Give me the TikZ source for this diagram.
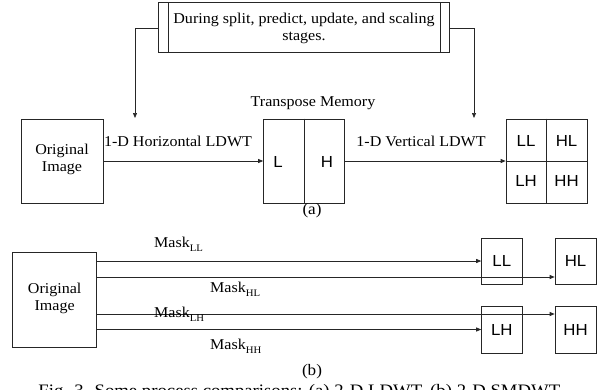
\documentclass[tikz,border=0pt]{standalone}
\usepackage{fontspec}
\setmainfont{Liberation Serif}[FakeStretch=1.07]
\newfontfamily\arialfont{Liberation Sans}[FakeStretch=1.05]
\usetikzlibrary{arrows.meta,calc}

\tikzset{
  line/.style={draw=black!85, line width=0.7pt},
  arr/.style={line, -{Triangle[length=5pt,width=4pt]}},
  blk/.style={line, rectangle, inner sep=0pt},
  serif/.style={font=\fontsize{15}{17}\selectfont, inner sep=0pt},
  sans/.style={font=\arialfont\fontsize{16}{18}\selectfont, inner sep=0pt},
  captext/.style={font=\fontsize{16}{18}\selectfont, inner sep=0pt},
  figcap/.style={font=\fontsize{17.5}{19}\selectfont, inner sep=0pt},
}
\newcommand{\masklabel}[1]{Mask\raisebox{-0.55ex}{\fontsize{10}{10}\selectfont #1}}

\begin{document}
\begin{tikzpicture}[x=1pt, y=-1pt]
  \useasboundingbox[fill=white] (0,0) rectangle (604,389);

  % ---------- (a) 2-D LDWT ----------
  \node[blk, minimum width=291pt, minimum height=49.5pt] (tb) at (304,27.5) {};
  \draw[line] ([xshift=10pt]tb.north west) -- ([xshift=10pt]tb.south west);
  \draw[line] ([xshift=-9.5pt]tb.north east) -- ([xshift=-9.5pt]tb.south east);
  \node[serif, align=center] (tbt) at (304,28.5)
    {During split, predict, update, and scaling\\stages.};

  \coordinate (dl) at (135,118);
  \coordinate (dr) at (474,118);
  \draw[arr] (tb.west |- 0,28.5) -| (dl);
  \draw[arr] (tb.east |- 0,28.5) -| (dr);

  \node[blk, minimum width=82pt, minimum height=84pt] (oa) at (62,161) {};
  \node[serif, align=center] at (62,159.5) {Original\\Image};

  \node[blk, minimum width=81pt, minimum height=84pt] (tm) at (304,161) {};
  \draw[line] (tm.north) -- (tm.south);
  \node[sans] (tl) at (278,162) {L};
  \node[sans] (th) at (327,162) {H};
  \node[serif] (tmt) at (313,103) {Transpose Memory};

  \node[blk, minimum width=81pt, minimum height=84pt] (g) at (546.5,161) {};
  \draw[line] (g.north) -- (g.south);
  \draw[line] (g.west) -- (g.east);
  \node[sans] (gll) at (526,140.5) {LL};
  \node[sans] (ghl) at (566.5,140.5) {HL};
  \node[sans] (glh) at (526,181) {LH};
  \node[sans] (ghh) at (566.5,181) {HH};

  \draw[arr] (oa.east) -- (tm.west);
  \draw[arr] (tm.east) -- (g.west);
  \node[serif] (h1) at (178,141) {1-D Horizontal LDWT};
  \node[serif] (v1) at (421,141) {1-D Vertical LDWT};

  \node[captext] (la) at (312,211) {(a)};

  % ---------- (b) 2-D SMDWT ----------
  \node[blk, minimum width=84pt, minimum height=95pt] (ob) at (54.7,299.5) {};
  \node[serif, align=center] at (54.7,298.5) {Original\\Image};

  \node[blk, minimum width=40.5pt, minimum height=46pt] (ll) at (501.8,261) {};
  \node[blk, minimum width=41pt, minimum height=46pt] (hl) at (575.5,261) {};
  \node[blk, minimum width=40.5pt, minimum height=47pt] (lh) at (501.8,329.5) {};
  \node[blk, minimum width=41pt, minimum height=47pt] (hh) at (575.5,329.5) {};
  \node[sans] at (ll) {LL};
  \node[sans] at (hl) {HL};
  \node[sans] at (lh) {LH};
  \node[sans] at (hh) {HH};

  \draw[arr] (ob.east |- ll.west) -- (ll.west);
  \draw[arr] (ob.east |- 0,277) -- (hl.west |- 0,277);
  \draw[arr] (ob.east |- 0,314) -- (hh.west |- 0,314);
  \draw[arr] (ob.east |- lh.west) -- (lh.west);

  \node[serif, anchor=west] (mll) at (154,244) {\masklabel{LL}};
  \node[serif, anchor=west] (mhl) at (210,289) {\masklabel{HL}};
  \node[serif, anchor=west] (mlh) at (154,314) {\masklabel{LH}};
  \node[serif, anchor=west] (mhh) at (210,346) {\masklabel{HH}};

  \node[captext] (lb) at (312,372) {(b)};

  \node[figcap, anchor=north] (fig) at (301,384.5)
    {Fig. 3. Some process comparisons: (a) 2-D LDWT. (b) 2-D SMDWT.};
\end{tikzpicture}
\end{document}
